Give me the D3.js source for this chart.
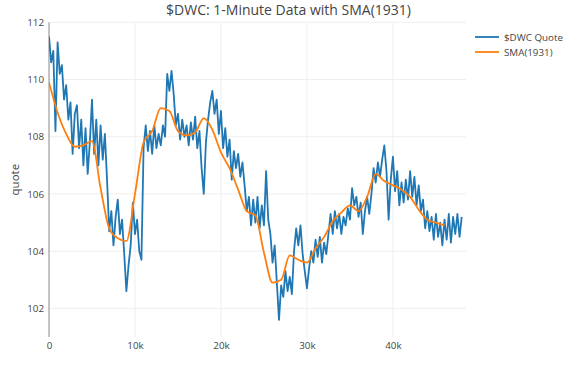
<!DOCTYPE html>
<html>
<head>
<meta charset="utf-8">
<script src="https://cdn.jsdelivr.net/npm/d3@7"></script>
<style>
  body { margin: 0; background: #fff; }
  svg { display: block; font-family: "Open Sans", sans-serif; }
</style>
</head>
<body>
<svg id="chart" width="577" height="371"></svg>
<script>
// ---------- data ----------
const titleText = "$DWC: 1-Minute Data with SMA(1931)";
const yAxisTitle = "quote";
const seriesNames = ["$DWC Quote", "SMA(1931)"];
const seriesColors = ["#1f77b4", "#ff7f0e"];

// minute index step between quote samples
const quoteStep = 250;
const quoteValues = [
  111.5, 110.6, 111.0, 108.2, 111.3, 110.2, 110.5, 109.3, 109.8, 108.6,
  109.2, 107.4, 108.8, 109.1, 107.6, 108.6, 107.0, 108.3, 106.7, 107.8,
  109.3, 107.4, 108.6, 107.0, 108.4, 107.2, 108.1, 106.5, 104.7, 105.4,
  104.2, 105.2, 105.8, 104.6, 105.1, 103.9, 102.6, 103.5, 104.2, 105.7,
  104.6, 105.1, 104.0, 103.7, 107.6, 108.4, 107.5, 108.2, 107.4, 108.4,
  107.6, 108.1, 107.7, 108.4, 108.0, 110.2, 109.6, 110.3, 109.5, 108.4,
  108.8, 107.9, 108.6, 108.0, 108.4, 107.7, 108.5, 107.9, 108.7, 107.6,
  108.2, 106.9, 106.0, 107.8, 108.6, 109.2, 109.6, 108.8, 109.3, 108.1,
  108.9, 107.6, 108.3, 107.3, 107.9, 106.5, 107.5, 106.9, 107.4, 106.6,
  107.1, 106.3, 105.4, 105.9, 104.9, 105.8, 105.0, 105.9, 104.8, 105.6,
  104.9, 106.8, 105.1, 104.6, 103.6, 104.2, 102.9, 101.6, 102.8, 102.4,
  103.3, 102.6, 103.1, 102.5, 104.0, 104.8, 104.2, 104.9, 103.9, 103.3,
  102.7, 103.4, 104.0, 103.6, 104.4, 103.8, 104.5, 103.6, 104.3, 103.9,
  104.6, 105.3, 104.6, 105.4, 104.8, 105.3, 104.6, 105.2, 104.9, 105.5,
  105.1, 106.2, 105.6, 105.9, 105.2, 105.7, 104.6, 105.4, 105.9, 105.3,
  106.0, 106.9, 106.4, 107.1, 106.6, 107.2, 107.7, 106.8, 105.1, 106.5,
  107.3, 106.1, 106.8, 105.6, 106.4, 105.7, 106.5, 105.8, 106.8, 105.9,
  106.6, 105.6, 106.3, 105.4, 105.8, 104.8, 105.4, 104.7, 105.2, 104.4,
  105.3, 104.5, 105.0, 104.2, 105.1, 104.4, 105.3, 104.3, 105.2, 104.6,
  105.3, 104.5, 105.2
];

// minute index step between SMA samples
const smaStep = 1000;
const smaValues = [
  109.9, 108.85, 108.1, 107.65, 107.7, 107.85, 106.2, 104.8, 104.45, 104.35,
  106.0, 107.8, 108.2, 109.0, 108.9, 108.2, 108.05, 108.15, 108.65, 108.25,
  107.45, 106.9, 106.15, 105.4, 105.25, 103.95, 102.9, 103.0, 103.85, 103.7,
  103.6, 104.1, 104.5, 105.05, 105.35, 105.6, 105.4, 105.9, 106.7, 106.45,
  106.3, 106.15, 105.9, 105.45, 105.1, 105.0, 104.9
];

const xDomain = [0, 48500];
const yDomain = [101, 112];
const xTicks = [0, 10000, 20000, 30000, 40000];
const xTickLabels = ["0", "10k", "20k", "30k", "40k"];
const yTicks = [102, 104, 106, 108, 110, 112];

// ---------- layout ----------
const plot = { left: 49, right: 466, top: 22.3, bottom: 337 };
const svg = d3.select("#chart");

const x = d3.scaleLinear().domain(xDomain).range([plot.left, plot.right]);
const y = d3.scaleLinear().domain(yDomain).range([plot.bottom, plot.top]);

// grid
const grid = svg.append("g");
grid.selectAll("line.yg").data(yTicks).join("line")
  .attr("x1", plot.left).attr("x2", plot.right)
  .attr("y1", d => y(d)).attr("y2", d => y(d))
  .attr("stroke", "#eee").attr("stroke-width", 1);
grid.selectAll("line.xg").data(xTicks.filter(d => d !== 0)).join("line")
  .attr("x1", d => x(d)).attr("x2", d => x(d))
  .attr("y1", plot.top).attr("y2", plot.bottom)
  .attr("stroke", "#eee").attr("stroke-width", 1);

// zero line
svg.append("line")
  .attr("x1", x(0)).attr("x2", x(0))
  .attr("y1", plot.top).attr("y2", plot.bottom)
  .attr("stroke", "#888").attr("stroke-width", 1);

// axes
const yAxis = svg.append("g")
  .attr("transform", `translate(${plot.left},0)`)
  .call(d3.axisLeft(y).tickValues(yTicks).tickSize(0).tickPadding(5));
yAxis.select(".domain").remove();
yAxis.selectAll("text").attr("fill", "#444").style("font-size", "9.8px")
  .style("font-family", "'Open Sans', sans-serif");

const xAxis = svg.append("g")
  .attr("transform", `translate(0,${plot.bottom})`)
  .call(d3.axisBottom(x).tickValues(xTicks).tickSize(0).tickPadding(5)
    .tickFormat((d, i) => xTickLabels[i]));
xAxis.select(".domain").remove();
xAxis.selectAll("text").attr("fill", "#444").style("font-size", "9.8px")
  .style("font-family", "'Open Sans', sans-serif");

// clip
svg.append("clipPath").attr("id", "clip").append("rect")
  .attr("x", plot.left).attr("y", plot.top)
  .attr("width", plot.right - plot.left).attr("height", plot.bottom - plot.top);

const lines = svg.append("g").attr("clip-path", "url(#clip)");

const quoteLine = d3.line()
  .x((d, i) => x(i * quoteStep))
  .y(d => y(d));
lines.append("path").datum(quoteValues)
  .attr("d", quoteLine)
  .attr("fill", "none").attr("stroke", seriesColors[0])
  .attr("stroke-width", 1.8).attr("stroke-linejoin", "round");

const smaLine = d3.line()
  .x((d, i) => x(i * smaStep))
  .y(d => y(d))
  .curve(d3.curveMonotoneX);
lines.append("path").datum(smaValues)
  .attr("d", smaLine)
  .attr("fill", "none").attr("stroke", seriesColors[1])
  .attr("stroke-width", 1.8).attr("stroke-linejoin", "round");

// title
svg.append("text")
  .attr("x", 288.5).attr("y", 15)
  .attr("text-anchor", "middle")
  .attr("fill", "#444").style("font-size", "14px")
  .text(titleText);

// y axis title
svg.append("text")
  .attr("transform", `translate(14,${(plot.top + plot.bottom) / 2}) rotate(-90)`)
  .attr("text-anchor", "middle").attr("dominant-baseline", "central")
  .attr("fill", "#444").style("font-size", "11.5px")
  .text(yAxisTitle);

// legend
const legend = svg.append("g");
const legendY = [37, 52];
seriesNames.forEach((name, i) => {
  legend.append("line")
    .attr("x1", 475).attr("x2", 499)
    .attr("y1", legendY[i]).attr("y2", legendY[i])
    .attr("stroke", seriesColors[i]).attr("stroke-width", 1.8);
  legend.append("text")
    .attr("x", 504).attr("y", legendY[i])
    .attr("dominant-baseline", "central")
    .attr("fill", "#444").style("font-size", "9.8px")
    .text(name);
});
</script>
</body>
</html>
